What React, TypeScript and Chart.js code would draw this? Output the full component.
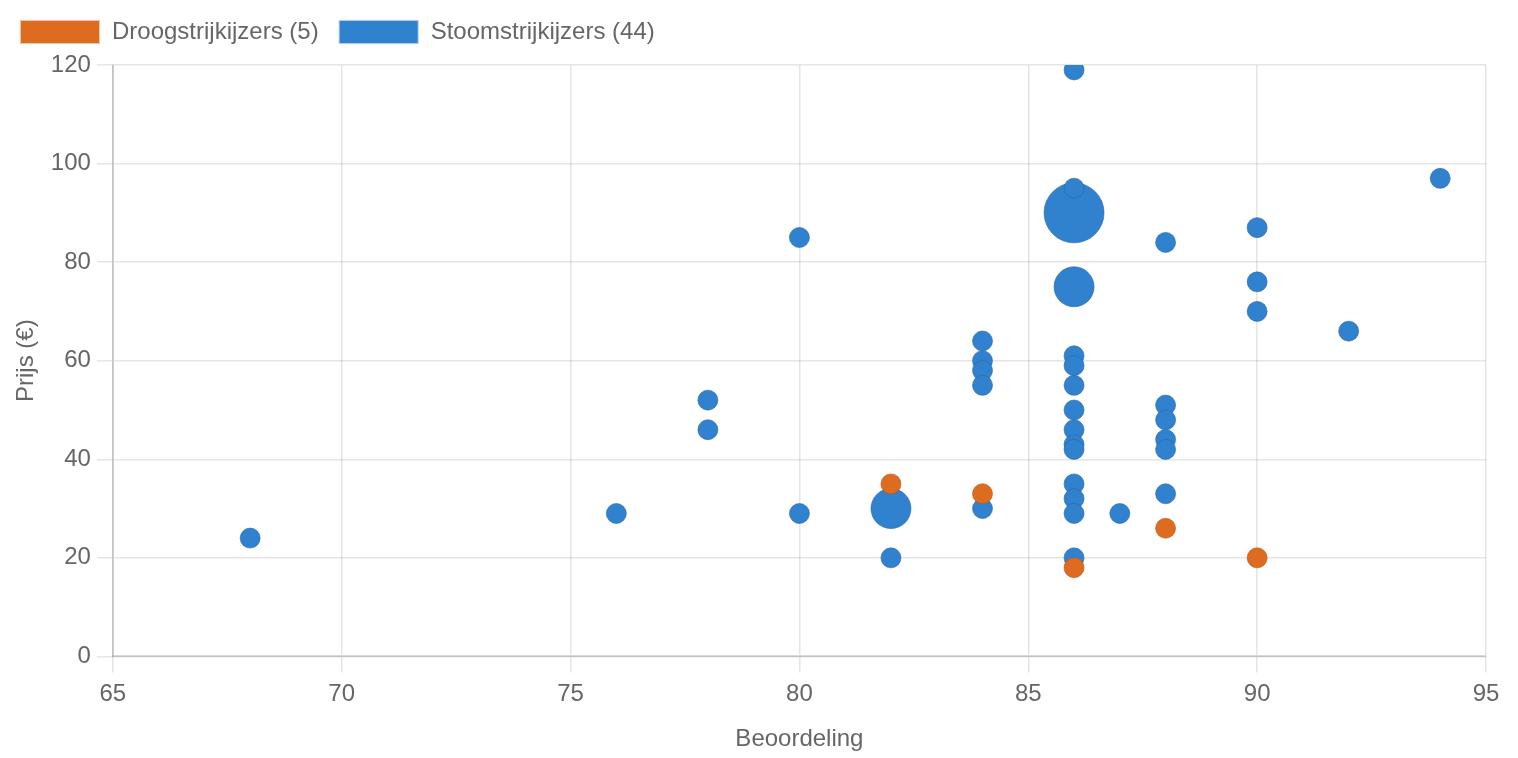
import React, { useEffect, useRef } from "react";
import { Chart, registerables } from "chart.js";

Chart.register(...registerables);

const seriesNames = ["Droogstrijkijzers", "Stoomstrijkijzers"];

const droogX = [82, 84, 86, 88, 90];
const droogY = [35, 33, 18, 26, 20];
const droogCount = [1, 1, 1, 1, 1];

const stoomX = [68, 76, 78, 78, 80, 80, 82, 82, 84, 84, 84, 84, 84, 86, 86, 86, 86, 86, 86, 86, 86, 86, 86, 86, 86, 86, 86, 86, 87, 88, 88, 88, 88, 88, 88, 90, 90, 90, 92, 94];
const stoomY = [24, 29, 52, 46, 85, 29, 30, 20, 64, 60, 58, 55, 30, 90, 95, 119, 75, 61, 59, 55, 50, 46, 43, 42, 35, 32, 29, 20, 29, 84, 51, 48, 44, 42, 33, 87, 76, 70, 66, 97];
const stoomCount = [1, 1, 1, 1, 1, 1, 2, 1, 1, 1, 1, 1, 1, 3, 1, 1, 2, 1, 1, 1, 1, 1, 1, 1, 1, 1, 1, 1, 1, 1, 1, 1, 1, 1, 1, 1, 1, 1, 1, 1];

const xTitle = "Beoordeling";
const yTitle = "Prijs (€)";

const colors = ["#DD6B20", "#3182CE"];
const borderColors = ["rgba(190,85,20,0.6)", "rgba(40,100,170,0.6)"];

const RADIUS_PER_ITEM = 10;

function build(xs: number[], ys: number[], cs: number[]) {
  return xs.map((x, i) => ({ x, y: ys[i], r: cs[i] * RADIUS_PER_ITEM }));
}
const sum = (a: number[]) => a.reduce((s, v) => s + v, 0);

const legendGap = {
  id: "legendGap",
  beforeLayout(chart: any) {
    const lg = chart.legend;
    if (lg && !lg._gapPatched) {
      const orig = lg.fit;
      lg.fit = function () {
        orig.call(this);
        this.height += 11;
      };
      lg._gapPatched = true;
    }
  },
};

export default function App() {
  const ref = useRef<HTMLCanvasElement | null>(null);
  useEffect(() => {
    if (!ref.current) return;
    const font = { family: "'Liberation Sans', Arial, Helvetica, sans-serif", size: 24 };
    const chart = new Chart(ref.current, {
      type: "bubble",
      plugins: [legendGap],
      data: {
        datasets: [
          {
            label: `${seriesNames[0]} (${sum(droogCount)})`,
            data: build(droogX, droogY, droogCount),
            backgroundColor: colors[0],
            borderColor: borderColors[0],
            borderWidth: 1,
          },
          {
            label: `${seriesNames[1]} (${sum(stoomCount)})`,
            data: build(stoomX, stoomY, stoomCount),
            backgroundColor: colors[1],
            borderColor: borderColors[1],
            borderWidth: 1,
          },
        ],
      },
      options: {
        animation: false,
        responsive: true,
        maintainAspectRatio: false,
        layout: { padding: { right: 32 } },
        plugins: {
          tooltip: { enabled: false },
          legend: {
            align: "start",
            labels: {
              font,
              color: "#666",
              boxWidth: 80,
              boxHeight: 24,
              padding: 20,
              generateLabels: (c: any) =>
                c.data.datasets.map((ds: any, i: number) => ({
                  text: ds.label,
                  fillStyle: colors[i],
                  strokeStyle: "rgba(255,255,255,0.6)",
                  lineWidth: 2,
                  hidden: false,
                  datasetIndex: i,
                  fontColor: "#666",
                })),
            },
          },
        },
        scales: {
          x: {
            type: "linear",
            min: 65,
            max: 95,
            ticks: { stepSize: 5, font, color: "#666", padding: 8 },
            grid: { color: "rgba(0,0,0,0.1)", lineWidth: 1.5, tickLength: 16 },
            border: { color: "rgba(0,0,0,0.15)", width: 2 },
            title: { display: true, text: xTitle, font, color: "#666", padding: { top: 8, bottom: 4 } },
          },
          y: {
            type: "linear",
            min: 0,
            max: 120,
            ticks: { stepSize: 20, font, color: "#666", padding: 6 },
            grid: { color: "rgba(0,0,0,0.1)", lineWidth: 1.5, tickLength: 16 },
            border: { color: "rgba(0,0,0,0.15)", width: 2 },
            title: { display: true, text: yTitle, font, color: "#666", padding: { top: 12, bottom: 4 } },
          },
        },
      },
    } as any);
    return () => chart.destroy();
  }, []);
  return (
    <div style={{ position: "absolute", left: 0, top: 0, width: 1518, height: 758 }}>
      <canvas ref={ref} />
    </div>
  );
}
